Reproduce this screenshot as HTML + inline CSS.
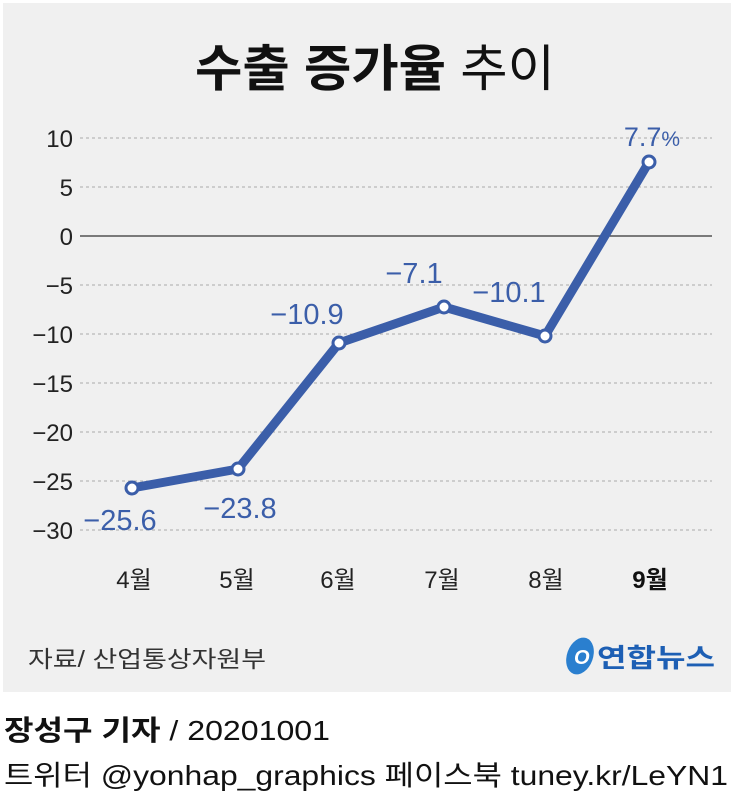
<!DOCTYPE html><html><head><meta charset="utf-8"><style>
body{margin:0;width:734px;height:800px;background:#fff;overflow:hidden}
svg{display:block}
text{font-family:"Liberation Sans","Noto Sans CJK KR",sans-serif}
</style></head><body>
<svg width="734" height="800" viewBox="0 0 734 800">
<rect x="3" y="3" width="728" height="689" fill="#f0f0f0"/>
<text x="195" y="86" font-size="50" fill="#111" textLength="360" lengthAdjust="spacingAndGlyphs"><tspan font-weight="bold">수출 증가율</tspan><tspan font-weight="normal"> 추이</tspan></text>
<g stroke="#aaa" stroke-width="1" stroke-dasharray="3,3">
<line x1="80" y1="138" x2="712" y2="138"/><line x1="80" y1="187" x2="712" y2="187"/>
<line x1="80" y1="285" x2="712" y2="285"/><line x1="80" y1="334" x2="712" y2="334"/>
<line x1="80" y1="383" x2="712" y2="383"/><line x1="80" y1="432" x2="712" y2="432"/>
<line x1="80" y1="481" x2="712" y2="481"/><line x1="80" y1="530" x2="712" y2="530"/>
</g>
<line x1="80" y1="236" x2="712" y2="236" stroke="#333" stroke-width="1.2"/>
<g font-size="24" fill="#222" text-anchor="end">
<text x="73" y="147">10</text><text x="73" y="196">5</text><text x="73" y="245">0</text>
<text x="73" y="294">−5</text><text x="73" y="343">−10</text><text x="73" y="392">−15</text>
<text x="73" y="441">−20</text><text x="73" y="490">−25</text><text x="73" y="539">−30</text>
</g>
<polyline points="132,488 238,469 339,343 444,307 545,336 649,162" fill="none" stroke="#3b5ea9" stroke-width="9" stroke-linejoin="round"/>
<g fill="#fff" stroke="#3b5ea9" stroke-width="3">
<circle cx="132" cy="488" r="6"/><circle cx="238" cy="469" r="6"/><circle cx="339" cy="343" r="6"/>
<circle cx="444" cy="307" r="6"/><circle cx="545" cy="336" r="6"/><circle cx="649" cy="162" r="6"/>
</g>
<g font-size="29" fill="#3b5ea9" text-anchor="middle">
<text x="120" y="530">−25.6</text><text x="240" y="518">−23.8</text><text x="307" y="324">−10.9</text>
<text x="414" y="283">−7.1</text><text x="509" y="302">−10.1</text>
<text x="652" y="146" font-size="27">7.7<tspan font-size="21">%</tspan></text>
</g>
<g font-size="24" fill="#222" text-anchor="middle">
<text x="134" y="588">4월</text><text x="237" y="588">5월</text><text x="338" y="588">6월</text>
<text x="442" y="588">7월</text><text x="546" y="588">8월</text><text x="650" y="588" font-weight="bold" fill="#111">9월</text>
</g>
<text x="28" y="667" font-size="23" fill="#333" textLength="238" lengthAdjust="spacingAndGlyphs">자료/ 산업통상자원부</text>
<ellipse cx="580" cy="656" rx="13" ry="19" fill="#2a7fcf" transform="rotate(20 580 656)"/>
<text x="574" y="664" font-size="20" font-style="italic" font-weight="bold" fill="#fff">O</text>
<text x="597" y="667" font-size="26" font-weight="bold" fill="#1d5fb4" textLength="118" lengthAdjust="spacingAndGlyphs">연합뉴스</text>
<text x="4" y="740" font-size="28" fill="#111" textLength="326" lengthAdjust="spacingAndGlyphs"><tspan font-weight="bold">장성구 기자</tspan>  / 20201001</text>
<text x="4" y="785" font-size="28" fill="#111" textLength="724" lengthAdjust="spacingAndGlyphs">트위터 @yonhap_graphics  페이스북 tuney.kr/LeYN1</text>
</svg>
</body></html>
